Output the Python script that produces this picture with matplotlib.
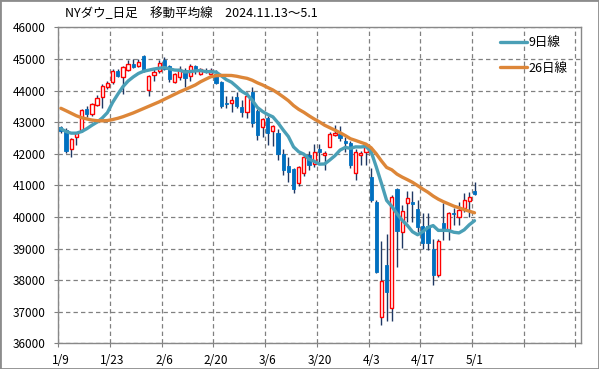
import numpy as np
import pandas as pd
import matplotlib
matplotlib.use('Agg')
import matplotlib.pyplot as plt
from matplotlib.patches import Rectangle

plt.rcParams['font.family'] = ['Noto Sans CJK JP', 'DejaVu Sans']

# weekdays shown on the chart, 1/9 .. 5/1
dates = pd.bdate_range('2025-01-09', '2025-05-01')

opens = [42830, 42750, 42137, 42537, 42750, 43430, 43250, 43530, 43810, 44105,
         44270, 44620, 44430, 44663, 44850, 44790, 45084, 44011, 44480, 44620,
         44958, 44770, 44274, 44432, 44642, 44474, 44768, 44537, 44663, 44537,
         44516, 44274, 43610, 43610, 43779, 43484, 43326, 43937, 43358, 42853,
         43137, 42716, 42642, 41979, 41610, 41505, 41063, 41379, 41958, 41674,
         42137, 41958, 42221, 42589, 42621, 42400, 42347, 41400, 41958, 42063,
         41273, 40483, 36847, 38480, 37111, 40873, 39513, 40430, 40483, 40251,
         39713, 39725, 38986, 38164, 39819, 39587, 40135, 39987, 40272, 40515,
         40820]
highs = [42880, 42800, 42500, 42690, 43430, 43500, 43620, 43850, 44220, 44290,
         44680, 44680, 44780, 44960, 45000, 44990, 45120, 44500, 44700, 44960,
         45070, 44800, 44560, 44770, 44700, 44830, 44820, 44720, 44720, 44700,
         44640, 44300, 43830, 43830, 43950, 43700, 43950, 44100, 43400, 43130,
         43200, 42920, 42770, 42140, 41900, 41560, 41610, 41950, 42100, 42300,
         42300, 42080, 42680, 42900, 42870, 42540, 42400, 42140, 42100, 42320,
         41540, 40550, 39240, 39450, 40700, 40900, 40380, 40820, 40820, 40540,
         40110, 40125, 39300, 39290, 40430, 40150, 40280, 40480, 40767, 40800,
         41115]
lows = [42650, 42010, 41884, 42275, 42700, 43170, 43200, 43500, 43460, 44050,
        44200, 44420, 43900, 44620, 44700, 44750, 44600, 43830, 44300, 44560,
        44650, 44280, 44240, 44340, 44126, 44300, 44516, 44500, 44540, 44450,
        44200, 43440, 43440, 43330, 43440, 43160, 43116, 42850, 42430, 42530,
        42260, 42240, 41800, 41326, 41116, 40750, 40970, 41300, 41484, 41590,
        41750, 41484, 42200, 42550, 42400, 42060, 41537, 41170, 41642, 41642,
        40480, 38220, 36580, 36700, 36690, 38430, 39010, 39850, 39850, 39530,
        38975, 38966, 37848, 38100, 39270, 39270, 39745, 39745, 40170, 40000,
        40700]
closes = [42730, 42085, 42453, 42642, 43370, 43260, 43560, 43760, 44140, 44232,
          44627, 44470, 44730, 44853, 44750, 44916, 44642, 44474, 44600, 44884,
          44695, 44350, 44516, 44695, 44411, 44768, 44663, 44695, 44590, 44663,
          44242, 43495, 43560, 43695, 43505, 43305, 43832, 42958, 42589, 43095,
          42642, 42874, 41979, 41484, 41432, 40884, 41568, 41905, 41642, 42063,
          42063, 42032, 42611, 42663, 42484, 42326, 41642, 42063, 42032, 42221,
          40535, 38270, 37975, 37637, 40620, 39566, 40188, 40588, 40398, 39671,
          39165, 39177, 38164, 39240, 39608, 40135, 40083, 40219, 40535, 40620,
          40725]

ma9 = [42790, 42700, 42650, 42650, 42700, 42790, 42900, 43000, 43130, 43300,
       43620, 43880, 44120, 44300, 44430, 44540, 44610, 44645, 44680, 44705,
       44727, 44685, 44647, 44641, 44585, 44599, 44620, 44631, 44598, 44595,
       44583, 44469, 44343, 44263, 44123, 43972, 43876, 43695, 43465, 43337,
       43242, 43166, 42975, 42751, 42543, 42215, 42061, 41985, 41823, 41759,
       41669, 41675, 41800, 41937, 42115, 42199, 42170, 42216, 42213, 42230,
       42064, 41582, 41061, 40522, 40333, 40102, 39894, 39733, 39531, 39435,
       39534, 39666, 39725, 39572, 39576, 39570, 39514, 39494, 39590, 39752,
       39880]
ma26 = [43437, 43360, 43280, 43200, 43140, 43100, 43065, 43045, 43040, 43050,
        43080, 43120, 43170, 43230, 43290, 43360, 43430, 43500, 43570, 43640,
        43720, 43800, 43880, 43960, 44030, 44101, 44175, 44275, 44357, 44435,
        44469, 44478, 44478, 44475, 44451, 44415, 44385, 44326, 44244, 44176,
        44095, 44017, 43914, 43799, 43678, 43524, 43403, 43309, 43199, 43098,
        43007, 42902, 42823, 42745, 42664, 42574, 42474, 42419, 42360, 42304,
        42189, 41996, 41770, 41566, 41490, 41354, 41260, 41180, 41095, 40990,
        40880, 40780, 40660, 40560, 40480, 40410, 40340, 40290, 40230, 40180,
        40130]

tick_labels = ['1/9', '1/23', '2/6', '2/20', '3/6', '3/20', '4/3', '4/17', '5/1']

o = np.array(opens)
h = np.array(highs)
l = np.array(lows)
c = np.array(closes)
x = np.arange(len(dates))
up = c >= o

fig = plt.figure(figsize=(5.99, 3.69), dpi=100)
ax = fig.add_axes([58.3 / 599, 1 - 343.3 / 369, 522.2 / 599, 316 / 369])

# wicks, then bodies (red hollow = up, blue filled = down)
ax.vlines(x, l, h, color='#1F3864', lw=1, zorder=2)
ax.bar(x[up], (c - o)[up], bottom=o[up], width=0.62, facecolor='white',
       edgecolor='#FF0000', lw=1, zorder=3)
ax.bar(x[~up], (o - c)[~up], bottom=c[~up], width=0.62, facecolor='#0070C0',
       edgecolor='#0070C0', lw=0.6, zorder=3)

ax.plot(x, ma9, color='#4A9FB6', lw=2.4, label='9日線', zorder=4, solid_capstyle='round')
ax.plot(x, ma26, color='#DD8638', lw=2.4, label='26日線', zorder=4, solid_capstyle='round')

ax.set_xlim(-0.5, 100.5)
ax.set_ylim(36000, 46000)
ax.set_yticks(np.arange(36000, 46001, 1000))
ax.set_xticks(np.arange(-0.5, 101, 10))
ax.set_xticklabels([])
ax.set_xticks(np.arange(0, len(dates), 10), minor=True)
ax.set_xticklabels(tick_labels, minor=True)
ax.tick_params(axis='x', which='major', length=3, color='#808080')
ax.tick_params(axis='x', which='minor', length=0, pad=8, labelsize=8.5)
ax.tick_params(axis='y', length=3, color='#808080', pad=6, labelsize=8.5)

ax.grid(True, which='major', color='#808080', lw=0.9, ls=(0, (3.5, 2.5)))
ax.set_axisbelow(True)
for s in ax.spines.values():
    s.set_color('#888888')
    s.set_linewidth(1)

ax.legend(loc='upper right', bbox_to_anchor=(0.975, 0.9725), frameon=False,
          fontsize=9, handlelength=2.2, handletextpad=0.1, labelspacing=1.0,
          borderpad=0, borderaxespad=0)

fig.text(65 / 599, 1 - 14 / 369, 'NYダウ_日足　移動平均線　2024.11.13～5.1',
         fontsize=9, va='center', ha='left')

fig.patches.append(Rectangle((0, 0), 1, 1, transform=fig.transFigure, fill=False,
                             edgecolor='#8C8C8C', lw=2))

fig.savefig('out.png', dpi=100)
